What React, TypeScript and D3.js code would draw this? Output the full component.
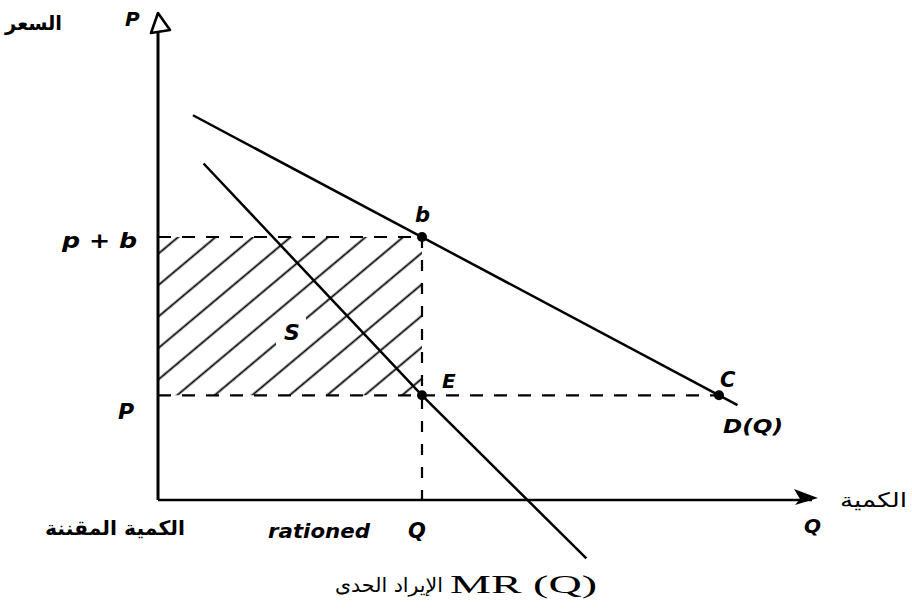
import React, { useEffect, useRef } from "react";
import * as d3 from "d3";

// Chart units: quantity (Q) on x, price (P) on y
const qDomain: [number, number] = [0, 10];
const pDomain: [number, number] = [0, 10];

const rationedQ = 4;
const priceP = 2.15;
const pricePB = 5.4;
const quantityC = 8.5;

// demand D(Q) and marginal revenue MR(Q)
const demandLine: [number, number][] = [
  [0.53, 7.9],
  [8.78, 1.95],
];
const mrLine: [number, number][] = [
  [0.69, 6.91],
  [4, 2.15],
  [6.49, -1.2],
];

const points = [
  { name: "b", q: rationedQ, p: pricePB },
  { name: "E", q: rationedQ, p: priceP },
  { name: "C", q: quantityC, p: priceP },
];

const priceAr = "السعر";
const qtyAr = "الكمية";
const rationedAr = "الكمية المقننة";
const mrAr = "الإيراد الحدى";

const App = () => {
  const svgRef = useRef<SVGSVGElement | null>(null);

  useEffect(() => {
    const width = 912;
    const height = 613;
    const root = d3.select(svgRef.current);
    root.selectAll("*").remove();
    root.attr("width", width).attr("height", height);

    const x = d3.scaleLinear().domain(qDomain).range([158, 818]);
    const y = d3.scaleLinear().domain(pDomain).range([500, 13]);

    const svg = root.append("g");
    const latin = "'DejaVu Sans', sans-serif";
    const arabic = "'DejaVu Sans', sans-serif";

    // --- hatch pattern for the rationing area S ---
    const gap = 24.1;
    const defs = root.append("defs");
    const pat = defs
      .append("pattern")
      .attr("id", "hatch")
      .attr("patternUnits", "userSpaceOnUse")
      .attr("width", 20)
      .attr("height", gap)
      .attr(
        "patternTransform",
        `translate(${x(0)},${y(pricePB) + 17}) rotate(-40) translate(0,${-gap / 2})`
      );
    pat
      .append("line")
      .attr("x1", 0)
      .attr("x2", 20)
      .attr("y1", gap / 2)
      .attr("y2", gap / 2)
      .attr("stroke", "#000")
      .attr("stroke-width", 1.8);

    svg
      .append("rect")
      .attr("x", x(0))
      .attr("y", y(pricePB))
      .attr("width", x(rationedQ) - x(0))
      .attr("height", y(priceP) - y(pricePB))
      .attr("fill", "url(#hatch)");

    // clear space round the S label
    svg
      .append("rect")
      .attr("x", 276)
      .attr("y", 314)
      .attr("width", 30)
      .attr("height", 32)
      .attr("fill", "#fff");

    // --- dashed guides ---
    const dash = "13,11";
    svg
      .append("line")
      .attr("x1", x(0))
      .attr("x2", x(rationedQ))
      .attr("y1", y(pricePB))
      .attr("y2", y(pricePB))
      .attr("stroke", "#000")
      .attr("stroke-width", 2.2)
      .attr("stroke-dasharray", dash);
    svg
      .append("line")
      .attr("x1", x(0))
      .attr("x2", x(quantityC))
      .attr("y1", y(priceP))
      .attr("y2", y(priceP))
      .attr("stroke", "#000")
      .attr("stroke-width", 2.2)
      .attr("stroke-dasharray", dash);
    svg
      .append("line")
      .attr("x1", x(rationedQ))
      .attr("x2", x(rationedQ))
      .attr("y1", y(pricePB))
      .attr("y2", y(0))
      .attr("stroke", "#000")
      .attr("stroke-width", 2.2)
      .attr("stroke-dasharray", "11,12");

    // --- axes ---
    svg
      .append("line")
      .attr("x1", x(0))
      .attr("x2", x(0))
      .attr("y1", y(0))
      .attr("y2", y(10) + 4)
      .attr("stroke", "#000")
      .attr("stroke-width", 3);
    svg
      .append("line")
      .attr("x1", x(0))
      .attr("x2", x(10) - 6)
      .attr("y1", y(0))
      .attr("y2", y(0))
      .attr("stroke", "#000")
      .attr("stroke-width", 2.6);

    // y arrow (open) and x arrow (filled)
    const ty = y(10);
    const ax = x(0);
    svg
      .append("path")
      .attr("d", `M${ax},${ty} L${ax - 7},${ty + 20} L${ax + 12},${ty + 17} Z`)
      .attr("fill", "#fff")
      .attr("stroke", "#000")
      .attr("stroke-width", 2.6)
      .attr("stroke-linejoin", "round");
    const tx = x(10);
    const ay = y(0);
    svg
      .append("path")
      .attr("d", `M${tx},${ay - 2} L${tx - 24},${ay - 11} L${tx - 18},${ay - 1} L${tx - 23},${ay + 5} Z`)
      .attr("fill", "#000");

    // --- curves ---
    const line = d3
      .line<[number, number]>()
      .x((d) => x(d[0]))
      .y((d) => y(d[1]));

    svg
      .append("path")
      .attr("d", line(demandLine))
      .attr("fill", "none")
      .attr("stroke", "#000")
      .attr("stroke-width", 2.5);
    svg
      .append("path")
      .attr("d", line(mrLine))
      .attr("fill", "none")
      .attr("stroke", "#000")
      .attr("stroke-width", 2.5);

    svg
      .selectAll(".pt")
      .data(points)
      .join("circle")
      .attr("class", "pt")
      .attr("cx", (d) => x(d.q))
      .attr("cy", (d) => y(d.p))
      .attr("r", 5)
      .attr("fill", "#000");

    // --- text ---
    const label = (
      t: string,
      px: number,
      py: number,
      size: number,
      opts: { len?: number; italic?: boolean; bold?: boolean; font?: string } = {}
    ) => {
      const el = svg
        .append("text")
        .attr("x", px)
        .attr("y", py)
        .style("font-family", opts.font ?? latin)
        .style("font-size", `${size}px`)
        .style("font-style", opts.italic === false ? "normal" : "italic")
        .style("font-weight", opts.bold === false ? "normal" : "bold")
        .attr("fill", "#000")
        .text(t);
      if (opts.len) el.attr("textLength", opts.len).attr("lengthAdjust", "spacingAndGlyphs");
      return el;
    };

    label("P", 125, 26, 20);
    label(priceAr, 5, 30, 20, { len: 57, italic: false, font: arabic });
    label("p + b", 62, 248, 21, { len: 75 });
    label("P", 118, 419, 22);
    label("S", 284, 340, 22);
    label("b", 415, 222, 21);
    label("E", 442, 388, 20);
    label("C", 720, 387, 21);
    label("D(Q)", 723, 433, 19, { len: 60 });
    label(qtyAr, 840, 507, 20, { len: 67, italic: false, bold: false, font: arabic });
    label("Q", 804, 533, 20);
    label(rationedAr, 45, 535, 20, { len: 140, italic: false, font: arabic });
    label("rationed", 268, 538, 19, { len: 102 });
    label("Q", 408, 538, 21);
    label(mrAr, 335, 592, 20, { len: 108, italic: false, bold: false, font: arabic });
    label("MR (Q)", 450, 593, 25, {
      len: 147,
      italic: false,
      bold: false,
      font: "'Liberation Serif', serif",
    });
  }, []);

  return (
    <div style={{ position: "absolute", left: 0, top: 0, background: "#fff" }}>
      <svg ref={svgRef}></svg>
    </div>
  );
};

export default App;
